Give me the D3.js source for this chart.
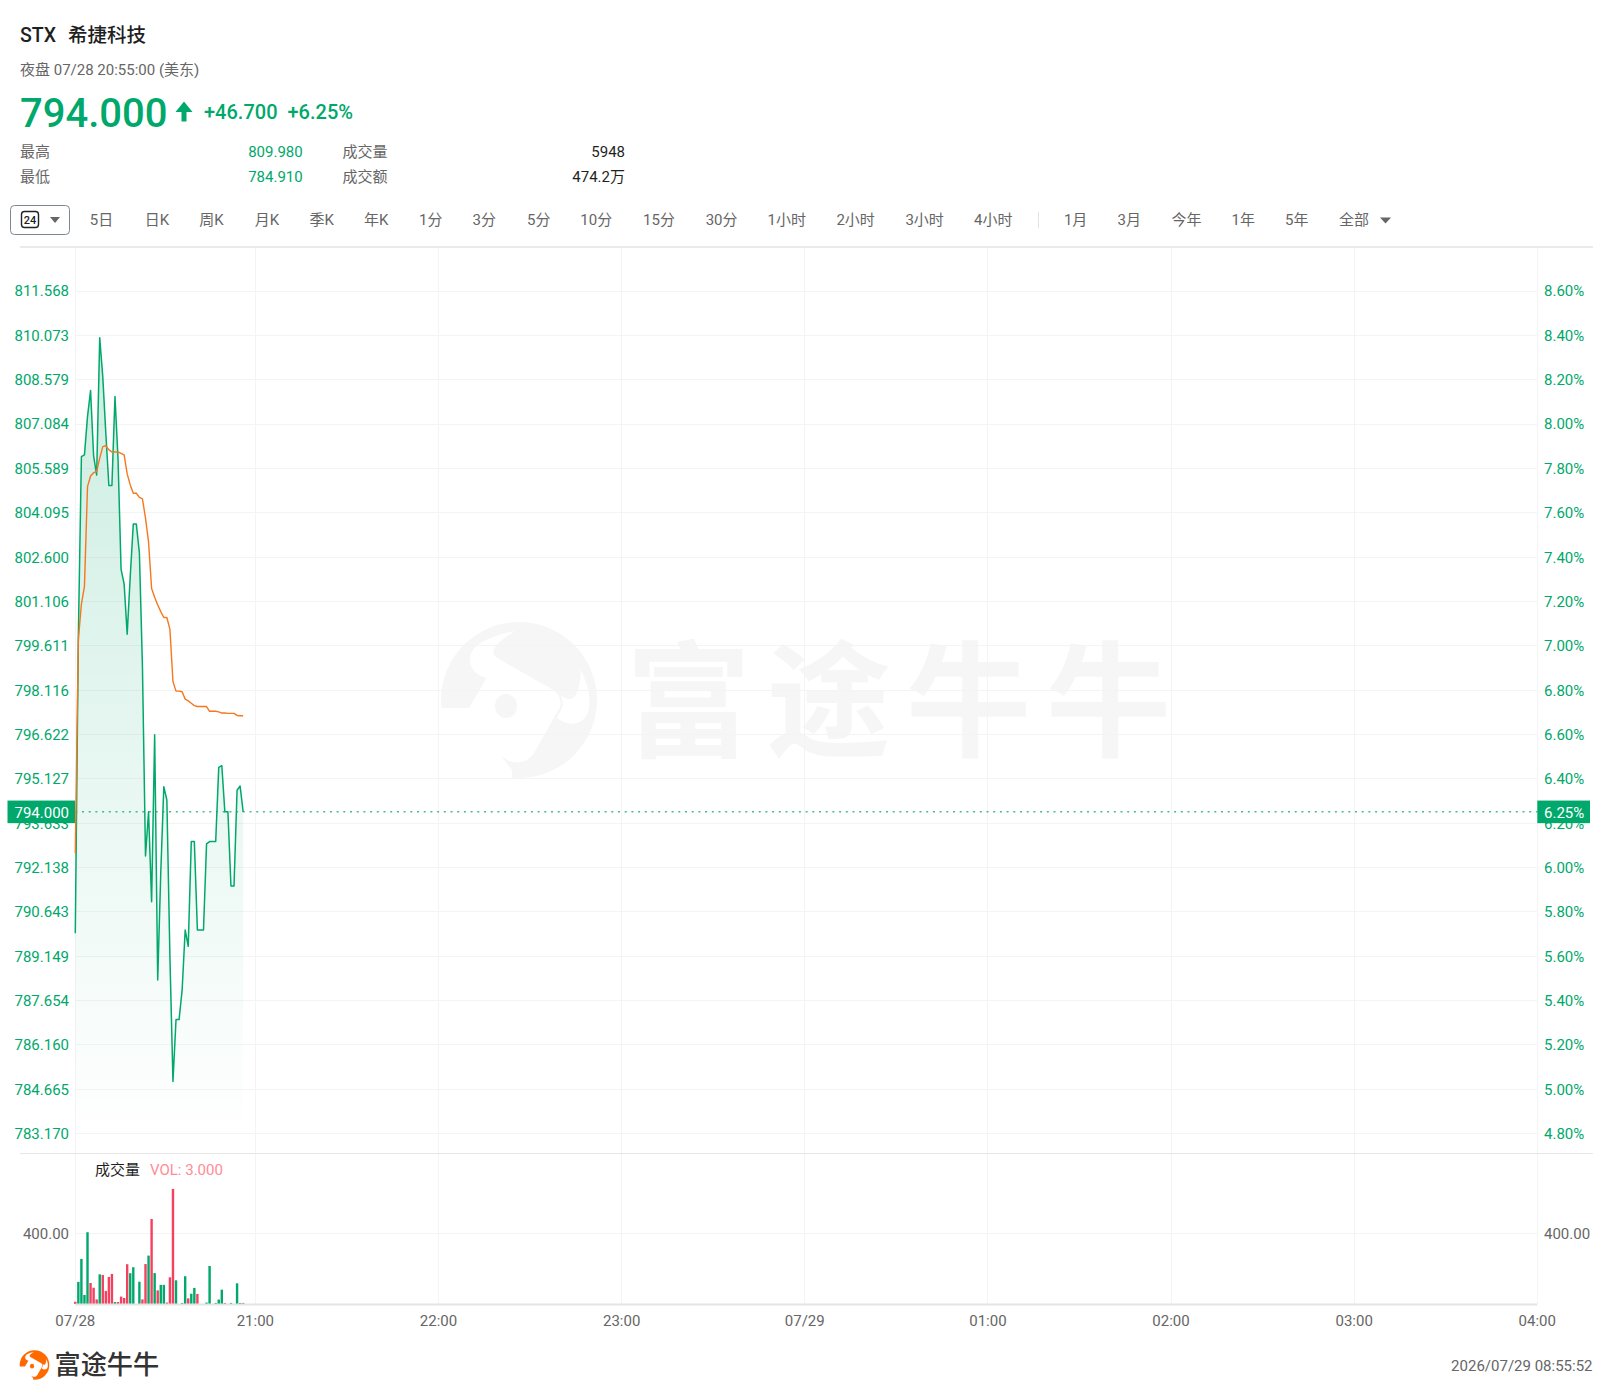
<!DOCTYPE html>
<html><head><meta charset="utf-8">
<script src="https://cdnjs.cloudflare.com/ajax/libs/d3/7.8.5/d3.min.js"></script>
<style>html,body{margin:0;padding:0;background:#fff}svg{display:block}text{font-family:Roboto,"Noto Sans CJK SC",sans-serif}</style>
</head><body><svg id="c" width="1613" height="1399"></svg>
<script>
const minutes = d3.range(1, 57);
const prices = [789.91,799.96,805.97,806.03,807.32,808.2,806.0,805.35,809.98,808.67,806.76,805.0,805.0,808.0,805.9,802.17,801.68,799.99,801.93,803.7,803.7,802.72,798.9,792.51,794.0,790.97,796.6,788.33,791.94,794.85,794.4,789.12,784.91,787.0,787.0,787.99,790.02,789.47,793.0,793.0,790.02,790.02,790.02,792.92,793.0,793.0,793.0,795.5,795.56,794.0,794.0,791.5,791.5,794.73,794.87,794.0];
const averages = [792.6,799.8,801.0,801.6,804.96,805.32,805.43,805.47,805.92,806.31,806.34,806.2,806.13,806.13,806.13,806.08,806.03,805.39,805.02,804.74,804.74,804.6,804.55,803.9,803.1,801.53,801.23,800.97,800.75,800.55,800.55,800.15,798.39,798.07,798.07,798.05,797.8,797.74,797.66,797.58,797.55,797.55,797.55,797.55,797.39,797.39,797.39,797.37,797.33,797.33,797.32,797.32,797.32,797.25,797.24,797.24];
const volumes = [13,125,255,51,406,119,92,26,168,164,74,153,170,11,11,42,34,225,174,208,0,126,26,226,274,481,175,77,108,108,8,151,651,134,0,6,157,32,58,91,57,0,0,8,215,0,6,25,81,6,0,6,0,117,6,6];
const volumeUp = [1,0,0,0,0,1,1,1,0,1,1,1,1,0,1,1,1,1,0,0,0,0,1,1,0,1,0,1,0,0,1,1,1,0,0,0,0,1,0,0,1,0,0,0,0,0,0,0,0,1,0,0,0,0,0,1];
const leftTicks = [811.568,810.073,808.579,807.084,805.589,804.095,802.600,801.106,799.611,798.116,796.622,795.127,793.633,792.138,790.643,789.149,787.654,786.160,784.665,783.170];
const rightTicks = ["8.60%","8.40%","8.20%","8.00%","7.80%","7.60%","7.40%","7.20%","7.00%","6.80%","6.60%","6.40%","6.20%","6.00%","5.80%","5.60%","5.40%","5.20%","5.00%","4.80%"];
const timeTicks = [1,60,120,180,240,300,360,420,480];
const timeLabels = ["07/28","21:00","22:00","23:00","07/29","01:00","02:00","03:00","04:00"];
const volumeTick = 400;
const lastPrice = 794.0, lastPct = "6.25%";
const tabs = [["5日",101.5],["日K",157],["周K",211.5],["月K",267],["季K",321.7],["年K",376.2],["1分",430.7],["3分",484.2],["5分",538.7],["10分",596.3],["15分",659],["30分",721.6],["1小时",786.7],["2小时",855.6],["3小时",924.6],["4小时",993.3],["1月",1075.6],["3月",1129.2],["今年",1186.4],["1年",1243.3],["5年",1296.7],["全部",1354]];

const GREEN="#00a86b", RED="#f4415f", GRAY="#666", DARK="#1f1f1f", GRID="#f4f4f5", LINE="#e6e6e6";
const svg=d3.select("#c");
const x=d3.scaleLinear().domain([1,480]).range([75.3,1537.3]);
const y=d3.scaleLinear().domain([811.568,783.170]).range([290.6,1133.2]);
const v=d3.scaleLinear().domain([0,400]).range([1304,1233.3]);

function txt(s,px,py,size,fill,anchor,weight){return svg.append("text").attr("x",px).attr("y",py).attr("dy","0.35em").attr("font-size",size).attr("fill",fill).attr("text-anchor",anchor||"start").attr("font-weight",weight||400).text(s);}
function logo(cx,cy,k,color){
  const g=svg.append("g").attr("transform",`translate(${cx},${cy}) scale(${k}) translate(-519,-700)`);
  g.append("circle").attr("cx",519).attr("cy",700).attr("r",78).attr("fill",color);
  g.append("path").attr("fill","#fff").attr("d","M515,631C490,636 468,645 470,662C471,670 478,676 486.6,678L469,708L430,708L430,795L512,795L512,770L499,753C506,763 524,768 534,753L560,707C562,697 557,692 550,688L497,658C490,652 492,645 515,631Z");
  g.append("path").attr("fill","#fff").attr("d","M580.6,669C588,685 592,700 588,712C584,724 570,728 557,718C561,710 564,704 563,703L561,695C566,700 572,700 575,696C579,690 581,680 580.6,669Z");
  g.append("ellipse").attr("cx",506).attr("cy",706).attr("rx",11).attr("ry",12).attr("fill",color);
}

// watermark
logo(519,700,1,"#f6f6f6");
svg.append("text").attr("x",626).attr("y",703.5).attr("dy","0.35em").attr("font-size",125).attr("font-weight",700).attr("letter-spacing",15).attr("fill","#f6f6f6").text("富途牛牛");

// header
txt("STX",20,35,19.5,DARK,"start",500);
txt("希捷科技",68,35,19.5,DARK,"start",500);
txt("夜盘 07/28 20:55:00 (美东)",20,70,15,GRAY);
txt("794.000",20,113,40,GREEN,"start",500);
svg.append("path").attr("fill",GREEN).attr("d","M184,101.5L192.5,112L186.5,112L186.5,121.5L181.5,121.5L181.5,112L175.5,112Z");
txt("+46.700",204,112.4,20,GREEN,"start",500);
txt("+6.25%",287.5,112.4,20,GREEN,"start",500);
txt("最高",20,151.6,15,GRAY); txt("最低",20,176.5,15,GRAY);
txt("809.980",302.7,151.6,15,GREEN,"end"); txt("784.910",302.7,176.5,15,GREEN,"end");
txt("成交量",342.5,151.6,15,GRAY); txt("成交额",342.5,176.5,15,GRAY);
txt("5948",625,151.6,15,DARK,"end"); txt("474.2万",625,176.5,15,DARK,"end");

// tab row
svg.append("rect").attr("x",10.5).attr("y",205.5).attr("width",59).attr("height",29).attr("rx",4).attr("fill","#fff").attr("stroke","#7d8794");
svg.append("rect").attr("x",21.5).attr("y",211.5).attr("width",17).attr("height",16).attr("rx",3).attr("fill","#fff").attr("stroke","#222").attr("stroke-width",1.4);
txt("24",30,220,11,DARK,"middle",500);
svg.append("path").attr("fill",GRAY).attr("d","M50,217L60,217L55,223Z");
tabs.forEach(t=>txt(t[0],t[1],220,15,GRAY,"middle"));
svg.append("line").attr("x1",1038.5).attr("x2",1038.5).attr("y1",212).attr("y2",228).attr("stroke","#e3e3e3");
svg.append("path").attr("fill",GRAY).attr("d","M1380,217.5L1391,217.5L1385.5,223.5Z");
svg.append("line").attr("x1",20).attr("x2",1593).attr("y1",247).attr("y2",247).attr("stroke","#eaeaea").attr("stroke-width",2);

// grid
svg.append("g").selectAll("line").data(timeTicks).join("line").attr("x1",d=>Math.floor(x(d))+.5).attr("x2",d=>Math.floor(x(d))+.5).attr("y1",248).attr("y2",1304).attr("stroke",GRID);
svg.append("g").selectAll("line").data(leftTicks).join("line").attr("x1",x(1)).attr("x2",x(480)).attr("y1",d=>Math.round(y(d))+.5).attr("y2",d=>Math.round(y(d))+.5).attr("stroke",GRID);
svg.append("line").attr("x1",x(1)).attr("x2",x(480)).attr("y1",Math.round(v(volumeTick))+.5).attr("y2",Math.round(v(volumeTick))+.5).attr("stroke",GRID);
svg.append("line").attr("x1",20).attr("x2",1593).attr("y1",1153.5).attr("y2",1153.5).attr("stroke",LINE);

// area
const defs=svg.append("defs");
const gr=defs.append("linearGradient").attr("id","ag").attr("gradientUnits","userSpaceOnUse").attr("x1",0).attr("x2",0).attr("y1",338).attr("y2",1140);
gr.append("stop").attr("offset",0).attr("stop-color",GREEN).attr("stop-opacity",.2);
gr.append("stop").attr("offset",1).attr("stop-color",GREEN).attr("stop-opacity",0);
const pts=minutes.map((m,i)=>({m,p:prices[i],a:averages[i],vol:volumes[i],up:volumeUp[i]}));
svg.append("path").datum(pts).attr("fill","url(#ag)").attr("d",d3.area().x(d=>x(d.m)).y0(1140).y1(d=>y(d.p)));

// last price dotted
svg.append("line").attr("x1",x(1)).attr("x2",x(480)).attr("y1",y(lastPrice)).attr("y2",y(lastPrice)).attr("stroke",GREEN).attr("stroke-opacity",.75).attr("stroke-width",1.5).attr("stroke-dasharray","2 4.7");

// lines
svg.append("path").datum(pts).attr("fill","none").attr("stroke",GREEN).attr("stroke-width",1.5).attr("stroke-linejoin","round").attr("d",d3.line().x(d=>x(d.m)).y(d=>y(d.p)));
svg.append("path").datum(pts).attr("fill","none").attr("stroke","#f5781e").attr("stroke-width",1.4).attr("stroke-linejoin","round").attr("d",d3.line().x(d=>x(d.m)).y(d=>y(d.a)));

// axis labels
svg.append("g").selectAll("text").data(leftTicks).join("text").attr("x",69).attr("y",d=>y(d)+0.6).attr("dy","0.35em").attr("text-anchor","end").attr("font-size",15).attr("fill",GREEN).text(d=>d.toFixed(3));
svg.append("g").selectAll("text").data(rightTicks).join("text").attr("x",1544).attr("y",(d,i)=>y(leftTicks[i])+0.6).attr("dy","0.35em").attr("font-size",15).attr("fill",GREEN).text(d=>d);
svg.append("rect").attr("x",7.5).attr("y",y(lastPrice)-11.3).attr("width",67.5).attr("height",22.6).attr("fill",GREEN);
txt(lastPrice.toFixed(3),69,y(lastPrice)+0.6,15,"#fff","end");
svg.append("rect").attr("x",1537.3).attr("y",y(lastPrice)-11.3).attr("width",52.7).attr("height",22.6).attr("fill",GREEN);
txt(lastPct,1544,y(lastPrice)+0.6,15,"#fff");

// volume
txt("成交量",95,1170,15,DARK);
txt("VOL: 3.000",150,1170,15,"#ff8b95");
txt(volumeTick.toFixed(2),69,v(volumeTick),15,GRAY,"end");
txt(volumeTick.toFixed(2),1544,v(volumeTick),15,GRAY);
svg.append("g").selectAll("rect").data(pts.filter(d=>d.vol>0)).join("rect").attr("x",d=>x(d.m)-1.2).attr("width",2.4).attr("y",d=>v(d.vol)).attr("height",d=>v(0)-v(d.vol)).attr("fill",d=>d.up?RED:GREEN);
svg.append("line").attr("x1",x(1)).attr("x2",x(480)).attr("y1",1304.5).attr("y2",1304.5).attr("stroke","#e4e4e4").attr("stroke-width",2);

// time axis
svg.append("g").selectAll("text").data(timeTicks).join("text").attr("x",d=>x(d)).attr("y",1321).attr("dy","0.35em").attr("text-anchor","middle").attr("font-size",15).attr("fill",GRAY).text((d,i)=>timeLabels[i]);

// footer
logo(34.5,1365,0.19,"#ff6a00");
txt("富途牛牛",54.5,1365,26.2,"#333","start",500);
txt("2026/07/29 08:55:52",1592.5,1366,15,GRAY,"end");
</script></body></html>
